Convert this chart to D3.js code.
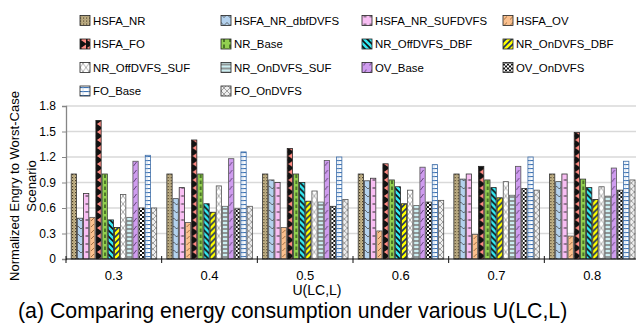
<!DOCTYPE html>
<html>
<head>
<meta charset="utf-8">
<script src="https://cdn.jsdelivr.net/npm/d3@7"></script>
<style>
  body { margin: 0; background: #fff; }
  svg { display: block; font-family: "Liberation Sans", Arial, sans-serif; }
</style>
</head>
<body>
<svg id="chart" width="636" height="323"></svg>
<script>
// data
var categories = ["0.3", "0.4", "0.5", "0.6", "0.7", "0.8"];
var seriesNames = ["HSFA_NR", "HSFA_NR_dbfDVFS", "HSFA_NR_SUFDVFS", "HSFA_OV",
  "HSFA_FO", "NR_Base", "NR_OffDVFS_DBF", "NR_OnDVFS_DBF",
  "NR_OffDVFS_SUF", "NR_OnDVFS_SUF", "OV_Base", "OV_OnDVFS",
  "FO_Base", "FO_OnDVFS"];
var HSFA_NR         = [1.00, 1.00, 1.00, 1.00, 1.00, 1.00];
var HSFA_NR_dbfDVFS = [0.48, 0.71, 0.93, 0.92, 0.94, 0.91];
var HSFA_NR_SUFDVFS = [0.77, 0.84, 0.90, 0.95, 1.00, 1.00];
var HSFA_OV         = [0.49, 0.43, 0.37, 0.33, 0.29, 0.27];
var HSFA_FO         = [1.63, 1.40, 1.30, 1.12, 1.09, 1.49];
var NR_Base         = [1.00, 1.00, 1.00, 0.93, 0.93, 0.94];
var NR_OffDVFS_DBF  = [0.46, 0.65, 0.90, 0.85, 0.84, 0.84];
var NR_OnDVFS_DBF   = [0.37, 0.55, 0.68, 0.65, 0.72, 0.70];
var NR_OffDVFS_SUF  = [0.76, 0.86, 0.80, 0.81, 0.91, 0.85];
var NR_OnDVFS_SUF   = [0.49, 0.62, 0.67, 0.63, 0.75, 0.74];
var OV_Base         = [1.15, 1.18, 1.16, 1.08, 1.09, 1.07];
var OV_OnDVFS       = [0.60, 0.59, 0.62, 0.67, 0.83, 0.81];
var FO_Base         = [1.22, 1.26, 1.20, 1.11, 1.20, 1.15];
var FO_OnDVFS       = [0.60, 0.62, 0.70, 0.69, 0.81, 0.93];
var seriesValues = [HSFA_NR, HSFA_NR_dbfDVFS, HSFA_NR_SUFDVFS, HSFA_OV,
  HSFA_FO, NR_Base, NR_OffDVFS_DBF, NR_OnDVFS_DBF,
  NR_OffDVFS_SUF, NR_OnDVFS_SUF, OV_Base, OV_OnDVFS,
  FO_Base, FO_OnDVFS];
var yTicks = [0, 0.3, 0.6, 0.9, 1.2, 1.5, 1.8];
var yTickLabels = ["0", "0.3", "0.6", "0.9", "1.2", "1.5", "1.8"];

var svg = d3.select("#chart");
var defs = svg.append("defs");

// hatch patterns, one per series
function pat(id, w, h, bg, draw) {
  var p = defs.append("pattern").attr("id", id)
    .attr("patternUnits", "userSpaceOnUse")
    .attr("width", w).attr("height", h);
  p.append("rect").attr("width", w).attr("height", h).attr("fill", bg);
  draw(p);
}
pat("p0", 3, 3, "#c9b98e", function(p) {
  p.append("rect").attr("width", 1.2).attr("height", 1.2).attr("fill", "#4a3d25");
  p.append("rect").attr("x", 1.5).attr("y", 1.5).attr("width", 1).attr("height", 1).attr("fill", "#7a6a48");
});
pat("p1", 6, 8, "#b4d2ee", function(p) {
  p.append("path").attr("d", "M0,2 L3,5 L6,2").attr("fill", "none").attr("stroke", "#3a3a3a").attr("stroke-width", 0.7);
});
pat("p2", 6, 8, "#f8bef3", function(p) {
  p.append("path").attr("d", "M1.5,4 H4.5").attr("stroke", "#2a2a2a").attr("stroke-width", 1);
});
pat("p3", 6, 6, "#fbc08e", function(p) {
  p.append("path").attr("d", "M1,5 L4,2").attr("stroke", "#8a5a30").attr("stroke-width", 0.8);
});
pat("p4", 6, 8, "#111", function(p) {
  p.append("polygon").attr("points", "6.2,0.4 0.9,4 6.2,7.6").attr("fill", "#ff8a82");
});
pat("p5", 6, 6, "#92d050", function(p) {
  p.append("path").attr("d", "M3,0.5 V4").attr("stroke", "#1c3a0c").attr("stroke-width", 1.2);
});
pat("p6", 6, 6, "#34e8f2", function(p) {
  p.append("path").attr("d", "M-1,1 L5,7 M2,-2 L8,4 M-4,4 L2,10").attr("stroke", "#111").attr("stroke-width", 1.6);
});
pat("p7", 6, 6, "#ffff00", function(p) {
  p.append("path").attr("d", "M-1,5 L5,-1 M2,8 L8,2 M-4,2 L2,-4").attr("stroke", "#1f3466").attr("stroke-width", 1.6);
});
pat("p8", 6, 8, "#ffffff", function(p) {
  p.append("path").attr("d", "M0,0 L6,8 M6,0 L0,8").attr("stroke", "#8a8a8a").attr("stroke-width", 0.7);
});
pat("p9", 6, 4, "#cdeff2", function(p) {
  p.append("path").attr("d", "M0,1 H6").attr("stroke", "#808080").attr("stroke-width", 1.6);
});
pat("p10", 6, 8, "#cf9cef", function(p) {
  p.append("path").attr("d", "M1.5,6 L4.5,2").attr("stroke", "#4a2e5e").attr("stroke-width", 0.8);
});
pat("p11", 4, 4, "#ffffff", function(p) {
  p.append("rect").attr("width", 2).attr("height", 2).attr("fill", "#111");
  p.append("rect").attr("x", 2).attr("y", 2).attr("width", 2).attr("height", 2).attr("fill", "#111");
});
pat("p12", 6, 4, "#ffffff", function(p) {
  p.append("path").attr("d", "M0,0.5 H6").attr("stroke", "#3f74b4").attr("stroke-width", 1.2);
  p.append("path").attr("d", "M3,0 V4").attr("stroke", "#9fbde0").attr("stroke-width", 0.6);
});
pat("p13", 6, 6, "#efefef", function(p) {
  p.append("path").attr("d", "M0,0 L6,6 M6,0 L0,6").attr("stroke", "#8c8c8c").attr("stroke-width", 0.8);
});
var strokes = ["#333", "#444", "#333", "#555", "#222", "#333", "#222", "#222",
  "#555", "#666", "#555", "#333", "#3f6ea8", "#555"];

// scales
var x0 = d3.scaleBand().domain(categories).range([66, 640]).padding(0);
var x1 = d3.scaleBand().domain(seriesNames).range([4.8, 91.2]).padding(0);
var y = d3.scaleLinear().domain([0, 1.8]).range([259, 106]);

// gridlines
svg.append("g").selectAll("line").data(yTicks.slice(1)).enter().append("line")
  .attr("x1", 66).attr("x2", 636)
  .attr("y1", function(d) { return y(d); }).attr("y2", function(d) { return y(d); })
  .attr("stroke", "#d9d9d9").attr("stroke-width", 1.3);

// bars
var groups = svg.append("g").selectAll("g").data(categories).enter().append("g")
  .attr("transform", function(d) { return "translate(" + x0(d) + ",0)"; });
groups.selectAll("rect")
  .data(function(c, ci) {
    return seriesNames.map(function(s, si) { return {s: s, si: si, v: seriesValues[si][ci]}; });
  })
  .enter().append("rect")
  .attr("x", function(d) { return x1(d.s) + 0.4; })
  .attr("width", x1.bandwidth() - 0.9)
  .attr("y", function(d) { return y(d.v); })
  .attr("height", function(d) { return y(0) - y(d.v); })
  .attr("fill", function(d) { return "url(#p" + d.si + ")"; })
  .attr("stroke", function(d) { return strokes[d.si]; })
  .attr("stroke-width", 0.8);

// y axis
var yAxis = svg.append("g").attr("transform", "translate(66,0)")
  .call(d3.axisLeft(y).tickValues(yTicks).tickSize(4).tickPadding(6)
    .tickFormat(function(d, i) { return yTickLabels[i]; }));
yAxis.select(".domain").attr("stroke", "#868686").attr("stroke-width", 1.3);
yAxis.selectAll(".tick line").attr("stroke", "#868686");
yAxis.selectAll("text").attr("font-size", 12).attr("fill", "#000")
  .attr("font-family", "Liberation Sans, Arial, sans-serif");

// x axis
svg.append("line").attr("x1", 66).attr("x2", 636).attr("y1", 259).attr("y2", 259)
  .attr("stroke", "#111").attr("stroke-width", 1);
svg.append("g").selectAll("line").data(categories).enter().append("line")
  .attr("x1", function(d) { return x0(d); }).attr("x2", function(d) { return x0(d); })
  .attr("y1", 256).attr("y2", 263).attr("stroke", "#111");
svg.append("g").selectAll("text").data(categories).enter().append("text")
  .attr("x", function(d) { return x0(d) + x0.bandwidth() / 2; })
  .attr("y", 280).attr("text-anchor", "middle").attr("font-size", 13)
  .text(function(d) { return d; });

// axis titles
svg.append("text").attr("x", 317).attr("y", 295).attr("text-anchor", "middle")
  .attr("font-size", 14).text("U(LC,L)");
var yt = svg.append("text").attr("transform", "translate(0,186) rotate(-90)")
  .attr("text-anchor", "middle").attr("font-size", 13);
yt.append("tspan").attr("x", 0).attr("y", 19).text("Normalized Engry to Worst-Case");
yt.append("tspan").attr("x", 0).attr("y", 36).text("Scenario");

// caption
svg.append("text").attr("x", 18).attr("y", 318).attr("font-size", 21.3)
  .text("(a) Comparing energy consumption under various U(LC,L)");

// legend, 4 columns
var legX = [80, 221, 362, 503];
var legY = [20.5, 44, 67.5, 91];
var leg = svg.append("g").selectAll("g").data(seriesNames).enter().append("g")
  .attr("transform", function(d, i) {
    return "translate(" + legX[i % 4] + "," + legY[Math.floor(i / 4)] + ")";
  });
leg.append("rect").attr("x", 0).attr("y", -5).attr("width", 10).attr("height", 10)
  .attr("fill", function(d, i) { return "url(#p" + i + ")"; })
  .attr("stroke", "#222").attr("stroke-width", 0.8);
leg.append("text").attr("x", 13).attr("y", 4.3).attr("font-size", 11.4)
  .text(function(d) { return d; });
</script>
</body>
</html>
